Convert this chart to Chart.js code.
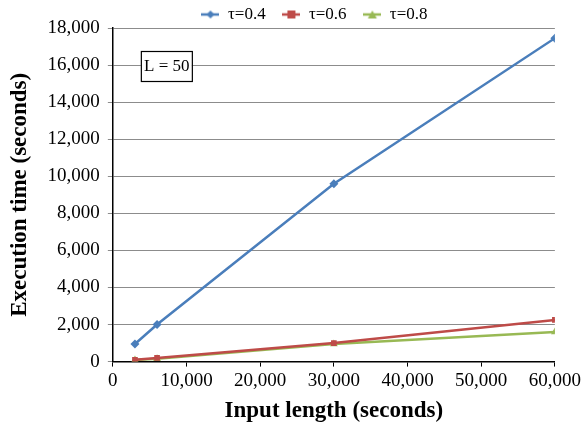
<!DOCTYPE html>
<html>
<head>
<meta charset="utf-8">
<script src="https://cdn.jsdelivr.net/npm/chart.js@4.4.0/dist/chart.umd.min.js"></script>
<style>
  html, body { margin: 0; padding: 0; background: #fff; }
  #wrap { width: 584px; height: 422px; }
</style>
</head>
<body>
<div id="wrap"><canvas id="chart"></canvas></div>
<script>
const inputLength = [3000, 6000, 30000, 60000];
const tau04 = [950, 2000, 9600, 17450];
const tau06 = [100, 200, 1000, 2250];
const tau08 = [80, 150, 950, 1600];
const seriesNames = ["τ=0.4", "τ=0.6", "τ=0.8"];
const boxLabel = "L = 50";

const FONT = "'Liberation Serif', 'Times New Roman', serif";

function toPoints(ys) {
  return ys.map((y, i) => ({ x: inputLength[i], y: y }));
}

// small legend icon: line with marker in the middle
function legendIcon(color, style) {
  const c = document.createElement("canvas");
  c.width = 18; c.height = 10;
  const g = c.getContext("2d");
  g.strokeStyle = color;
  g.fillStyle = color;
  g.lineWidth = 2.5;
  g.beginPath(); g.moveTo(0, 5); g.lineTo(18, 5); g.stroke();
  g.beginPath();
  if (style === "rectRot") {
    g.moveTo(9, 1); g.lineTo(13, 5); g.lineTo(9, 9); g.lineTo(5, 5);
  } else if (style === "rect") {
    g.rect(5, 1, 8, 8);
  } else {
    g.moveTo(9, 1); g.lineTo(13.5, 9); g.lineTo(4.5, 9);
  }
  g.closePath(); g.fill();
  return c;
}

const colors = ["#4a7ebb", "#be4b48", "#98b954"];
const styles = ["rectRot", "rect", "triangle"];
const values = [tau04, tau06, tau08];

const boxPlugin = {
  id: "boxLabel",
  afterLayout(chart) {
    // legend in the original sits a bit right of centre and lower
    if (chart.legend) {
      chart.legend.left += 34;
      chart.legend.right += 34;
      chart.legend.top += 5;
      chart.legend.bottom += 5;
    }
  },
  afterDraw(chart) {
    const g = chart.ctx;
    const a = chart.chartArea;
    const x = a.left + 28, y = a.top + 23, w = 51, h = 30;
    g.save();
    g.fillStyle = "#fff";
    g.fillRect(x, y, w, h);
    g.strokeStyle = "#000";
    g.lineWidth = 1.2;
    g.strokeRect(x + 0.5, y + 0.5, w, h);
    g.fillStyle = "#000";
    g.font = "17px " + FONT;
    g.textAlign = "center";
    g.textBaseline = "middle";
    g.fillText(boxLabel, x + w / 2 + 0.5, y + h / 2 + 1);
    g.restore();
  }
};

new Chart(document.getElementById("chart"), {
  type: "line",
  data: {
    datasets: values.map((v, i) => ({
      label: seriesNames[i],
      data: toPoints(v),
      borderColor: colors[i],
      backgroundColor: colors[i],
      borderWidth: 2.5,
      pointStyle: styles[i],
      pointRadius: styles[i] === "rect" ? 4 : 4.5,
      pointBorderWidth: 0,
      tension: 0,
      fill: false
    }))
  },
  options: {
    responsive: true,
    maintainAspectRatio: false,
    animation: false,
    layout: { padding: { top: -3, right: 29, left: 6, bottom: -3 } },
    plugins: {
      legend: {
        position: "top",
        labels: {
          usePointStyle: true,
          pointStyleWidth: 18,
          boxWidth: 18,
          boxHeight: 10,
          padding: 4,
          color: "#000",
          font: { family: FONT, size: 17 },
          generateLabels(chart) {
            return chart.data.datasets.map((d, i) => ({
              text: i < 2 ? d.label + "   " : d.label,
              pointStyle: legendIcon(colors[i], styles[i]),
              fillStyle: colors[i],
              strokeStyle: colors[i],
              lineWidth: 0,
              hidden: false,
              datasetIndex: i
            }));
          }
        }
      },
      tooltip: { enabled: false }
    },
    scales: {
      x: {
        type: "linear",
        min: 0,
        max: 60000,
        ticks: {
          stepSize: 10000,
          color: "#000",
          font: { family: FONT, size: 19 },
          padding: 3,
          maxRotation: 0,
          callback: v => v.toLocaleString("en-US")
        },
        grid: { drawOnChartArea: false, drawTicks: true, tickLength: 5, color: "#000" },
        border: { color: "#000", width: 1.5 },
        title: {
          display: true,
          text: "Input length (seconds)",
          color: "#000",
          font: { family: FONT, size: 23, weight: "bold" },
          padding: { top: 2, bottom: 0 }
        }
      },
      y: {
        min: 0,
        max: 18000,
        ticks: {
          stepSize: 2000,
          color: "#000",
          font: { family: FONT, size: 19 },
          padding: 8,
          callback: v => v.toLocaleString("en-US")
        },
        grid: { color: "#8c8c8c", lineWidth: 1, tickLength: 5 },
        border: { color: "#000", width: 1.5 },
        title: {
          display: true,
          text: "Execution time (seconds)",
          color: "#000",
          font: { family: FONT, size: 23, weight: "bold" },
          padding: { top: 0, bottom: 6 }
        }
      }
    }
  },
  plugins: [boxPlugin]
});
</script>
</body>
</html>
